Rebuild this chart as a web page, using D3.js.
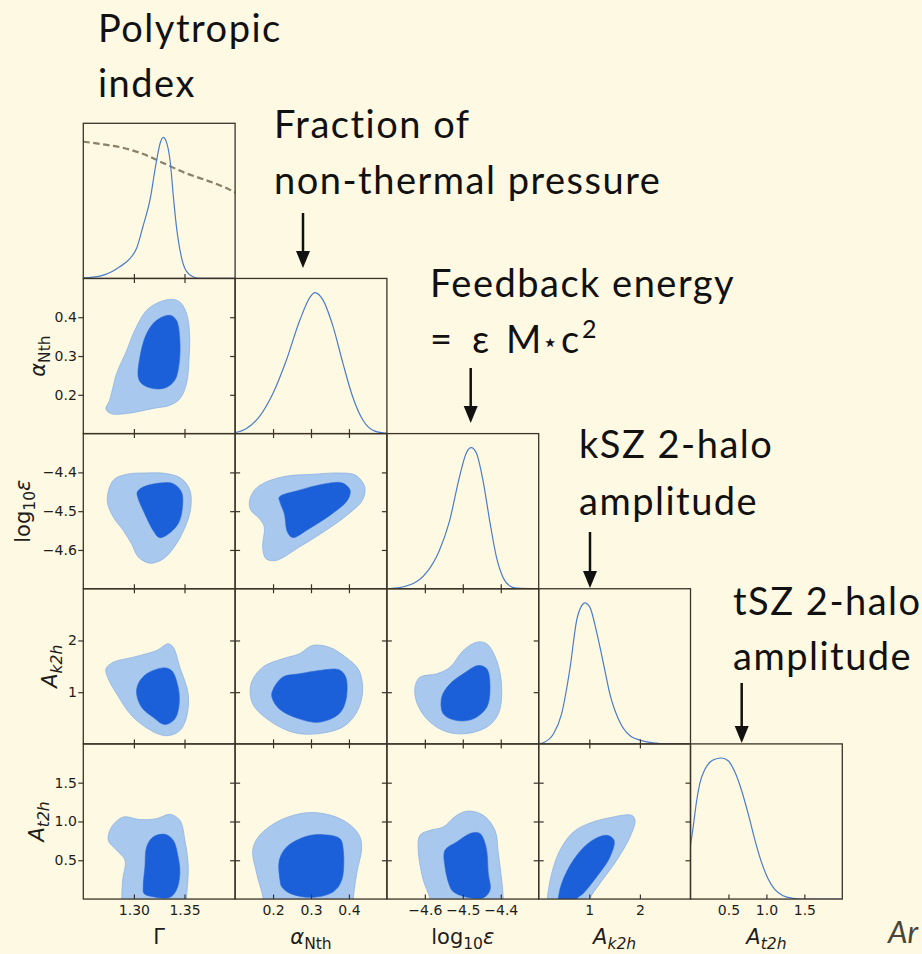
<!DOCTYPE html>
<html>
<head>
<meta charset="utf-8">
<script src="https://cdn.jsdelivr.net/npm/d3@7"></script>
<style>
  html, body { margin: 0; padding: 0; background: #fef9e2; }
  svg { display: block; }
</style>
</head>
<body>
<svg id="chart" width="922" height="954"></svg>
<script>
// ---------------- parameters ----------------
const paramDomains = [[1.25, 1.40], [0.1, 0.5], [-4.7, -4.3], [0, 3], [0, 2]];
const paramTicks = [[1.30, 1.35], [0.2, 0.3, 0.4], [-4.6, -4.5, -4.4], [1, 2], [0.5, 1.0, 1.5]];
const paramTickLabels = [["1.30", "1.35"], ["0.2", "0.3", "0.4"], ["\u22124.6", "\u22124.5", "\u22124.4"], ["1", "2"], ["0.5", "1.0", "1.5"]];

// axis labels as math segments: [text, italic, subscript]
const labelGamma = [["\u0393", false, false]];
const labelAlpha = [["\u03b1", true, false], ["Nth", false, true]];
const labelEps = [["log", false, false], ["10", false, true], ["\u03b5", true, false]];
const labelAk = [["A", true, false], ["k2h", true, true]];
const labelAt = [["A", true, false], ["t2h", true, true]];

// ---------------- 1D marginals (normalised to peak = 1) ----------------
const gammaPost = [[1.25,0.004],[1.2665,0.017],[1.276,0.04],[1.286,0.083],[1.296,0.14],[1.303,0.22],[1.309,0.37],[1.316,0.56],[1.322,0.82],[1.326,0.96],[1.329,1.0],[1.332,0.97],[1.336,0.82],[1.339,0.58],[1.342,0.37],[1.347,0.15],[1.352,0.05],[1.359,0.01],[1.365,0.0],[1.40,0.0]];
const gammaPrior = [[1.25,0.97],[1.27,0.95],[1.29,0.925],[1.31,0.88],[1.33,0.815],[1.35,0.75],[1.37,0.70],[1.39,0.645],[1.40,0.61]];
const alphaPost = [[0.1,0.007],[0.129,0.035],[0.164,0.12],[0.199,0.28],[0.235,0.52],[0.27,0.80],[0.298,0.97],[0.31,1.0],[0.331,0.95],[0.358,0.76],[0.384,0.50],[0.41,0.26],[0.437,0.095],[0.463,0.024],[0.49,0.005],[0.5,0.003]];
const epsPost = [[-4.7,0.0],[-4.686,0.002],[-4.632,0.035],[-4.597,0.11],[-4.562,0.27],[-4.535,0.48],[-4.509,0.79],[-4.491,0.96],[-4.478,1.0],[-4.464,0.96],[-4.447,0.77],[-4.429,0.48],[-4.411,0.22],[-4.394,0.08],[-4.376,0.02],[-4.358,0.004],[-4.3,0.0]];
const ak2hPost = [[0.0,0.002],[0.1,0.01],[0.29,0.07],[0.45,0.21],[0.62,0.54],[0.75,0.875],[0.85,0.98],[0.91,1.0],[1.01,0.97],[1.14,0.80],[1.28,0.57],[1.41,0.35],[1.61,0.15],[1.80,0.06],[2.07,0.02],[2.33,0.005],[2.5,0.0],[3.0,0.0]];
const at2hPost = [[0.0,0.38],[0.035,0.51],[0.079,0.69],[0.123,0.82],[0.19,0.92],[0.255,0.97],[0.343,0.995],[0.409,1.0],[0.497,0.98],[0.585,0.90],[0.673,0.77],[0.76,0.605],[0.848,0.42],[0.936,0.26],[1.02,0.146],[1.11,0.068],[1.22,0.024],[1.354,0.005],[1.45,0.0],[2.0,0.0]];

// ---------------- 2D credible regions (68% inner, 95% outer) ----------------
const gammaAlpha95 = [[1.2724,0.163],[1.276,0.186],[1.283,0.255],[1.293,0.315],[1.301,0.367],[1.3126,0.418],[1.326,0.44],[1.339,0.446],[1.346,0.438],[1.352,0.41],[1.355,0.358],[1.3546,0.298],[1.352,0.229],[1.3454,0.19],[1.3356,0.173],[1.319,0.165],[1.3027,0.156],[1.293,0.152],[1.278,0.151]];
const gammaAlpha68 = [[1.3043,0.246],[1.306,0.298],[1.3126,0.358],[1.3224,0.392],[1.3356,0.405],[1.342,0.392],[1.3454,0.341],[1.3447,0.281],[1.3405,0.238],[1.332,0.219],[1.319,0.216],[1.3076,0.229]];

const gammaEps95 = [[1.2737,-4.472],[1.2796,-4.4205],[1.2928,-4.405],[1.3126,-4.4016],[1.332,-4.403],[1.347,-4.416],[1.3553,-4.446],[1.3563,-4.489],[1.352,-4.532],[1.342,-4.584],[1.329,-4.623],[1.3158,-4.634],[1.3043,-4.618],[1.2977,-4.584],[1.2895,-4.5495],[1.2796,-4.515]];
const gammaEps68 = [[1.3033,-4.4507],[1.3092,-4.4378],[1.3257,-4.4274],[1.3388,-4.429],[1.347,-4.4507],[1.348,-4.489],[1.3438,-4.532],[1.3323,-4.562],[1.325,-4.568],[1.319,-4.5495],[1.3092,-4.498],[1.3043,-4.468]];

const alphaEps95 = [[0.1376,-4.4765],[0.1507,-4.446],[0.1815,-4.425],[0.234,-4.41],[0.304,-4.405],[0.374,-4.4016],[0.418,-4.4076],[0.4417,-4.438],[0.4354,-4.472],[0.4004,-4.506],[0.339,-4.5495],[0.269,-4.5926],[0.2078,-4.627],[0.1815,-4.6226],[0.1726,-4.5926],[0.177,-4.541],[0.1639,-4.519],[0.142,-4.498]];
const alphaEps68 = [[0.2164,-4.4636],[0.269,-4.446],[0.339,-4.429],[0.3828,-4.4274],[0.403,-4.446],[0.396,-4.472],[0.3565,-4.506],[0.2953,-4.545],[0.2514,-4.568],[0.238,-4.554],[0.2296,-4.506],[0.218,-4.476]];

const gammaAk95 = [[1.2724,1.452],[1.2796,1.579],[1.2993,1.676],[1.3224,1.806],[1.3339,1.935],[1.3388,1.87],[1.3454,1.483],[1.3536,0.968],[1.352,0.515],[1.3454,0.257],[1.3339,0.16],[1.3224,0.205],[1.2993,0.515],[1.283,0.968],[1.2747,1.258]];
const gammaAk68 = [[1.3043,1.161],[1.3126,1.355],[1.329,1.47],[1.3372,1.419],[1.3437,1.096],[1.3447,0.774],[1.3405,0.484],[1.3306,0.374],[1.319,0.515],[1.3076,0.708],[1.3027,0.968]];

const alphaAk95 = [[0.142,1.161],[0.1726,1.483],[0.2251,1.645],[0.269,1.742],[0.304,1.903],[0.3478,1.87],[0.3917,1.676],[0.4267,1.419],[0.4354,0.968],[0.418,0.581],[0.3828,0.323],[0.3129,0.194],[0.2514,0.226],[0.1901,0.452],[0.1463,0.774]];
const alphaAk68 = [[0.1988,1.032],[0.2251,1.29],[0.269,1.355],[0.3216,1.419],[0.374,1.432],[0.3917,1.29],[0.3917,0.838],[0.374,0.581],[0.3216,0.419],[0.269,0.484],[0.2164,0.677],[0.1971,0.903]];

const epsAk95 = [[-4.626,1.096],[-4.6128,1.29],[-4.5688,1.355],[-4.5337,1.483],[-4.4987,1.806],[-4.4634,1.966],[-4.437,1.935],[-4.4107,1.612],[-4.3975,1.096],[-4.4064,0.581],[-4.437,0.323],[-4.4987,0.194],[-4.5514,0.257],[-4.5951,0.484],[-4.6215,0.805]];
const epsAk68 = [[-4.5556,0.903],[-4.5337,1.161],[-4.4987,1.355],[-4.4592,1.516],[-4.437,1.452],[-4.4283,1.096],[-4.437,0.708],[-4.4723,0.484],[-4.5161,0.451],[-4.5514,0.581]];

const gammaAt95 = [[1.288,-0.15],[1.288,0.0],[1.2889,0.244],[1.2912,0.501],[1.283,0.629],[1.2747,0.758],[1.278,0.929],[1.2895,1.057],[1.306,1.024],[1.3224,1.036],[1.3356,1.092],[1.3454,1.015],[1.3504,0.758],[1.3537,0.415],[1.352,0.0],[1.352,-0.15]];
const gammaAt68 = [[1.3092,0.158],[1.3109,0.415],[1.3126,0.672],[1.319,0.8],[1.3306,0.835],[1.3388,0.758],[1.3437,0.543],[1.3454,0.33],[1.342,0.116],[1.3356,0.022],[1.319,0.03],[1.3099,0.073]];

const alphaAt95 = [[0.1743,-0.15],[0.1743,0.0],[0.1569,0.33],[0.1464,0.629],[0.1611,0.8],[0.2096,0.993],[0.271,1.1],[0.3237,1.108],[0.3851,1.015],[0.4246,0.844],[0.4336,0.672],[0.4204,0.33],[0.4115,0.0],[0.4115,-0.15]];
const alphaAt68 = [[0.2183,0.244],[0.2165,0.501],[0.236,0.672],[0.2887,0.809],[0.3324,0.83],[0.376,0.779],[0.3851,0.629],[0.3809,0.244],[0.3588,0.094],[0.3018,0.022],[0.2447,0.073],[0.2228,0.158]];

const epsAt95 = [[-4.5864,-0.15],[-4.5864,0.0],[-4.604,0.244],[-4.6173,0.629],[-4.6128,0.822],[-4.5864,0.886],[-4.5514,0.929],[-4.5161,1.079],[-4.4855,1.134],[-4.446,1.079],[-4.4152,0.886],[-4.4064,0.586],[-4.3975,0.244],[-4.3933,0.0],[-4.3933,-0.15]];
const epsAt68 = [[-4.5337,0.158],[-4.5469,0.415],[-4.5469,0.629],[-4.5161,0.736],[-4.4766,0.852],[-4.4547,0.844],[-4.4389,0.672],[-4.4328,0.33],[-4.4283,0.116],[-4.446,0.017],[-4.4942,0.03],[-4.525,0.094]];

const akAt95 = [[0.17,-0.15],[0.17,0.0],[0.257,0.33],[0.421,0.629],[0.684,0.864],[1.014,0.98],[1.409,1.049],[1.838,1.079],[1.903,1.015],[1.804,0.8],[1.542,0.501],[1.211,0.202],[1.014,0.0],[1.014,-0.15]];
const akAt68 = [[0.387,-0.15],[0.387,0.0],[0.454,0.202],[0.684,0.501],[1.014,0.736],[1.344,0.822],[1.488,0.758],[1.409,0.543],[1.146,0.287],[0.881,0.073],[0.751,0.0],[0.751,-0.15]];

// ---------------- annotations ----------------
const noteLines = [
  ["Polytropic", "index"],
  ["Fraction of", "non-thermal pressure"],
  ["Feedback energy"],
  ["kSZ 2-halo", "amplitude"],
  ["tSZ 2-halo", "amplitude"]
];
const energyFormula = ["=", "\u03b5", "M", "\u22c6", "c", "2"];
const cornerText = "Ar";

// ---------------- layout ----------------
const marginals = [gammaPost, alphaPost, epsPost, ak2hPost, at2hPost];
const axisLabels = [labelGamma, labelAlpha, labelEps, labelAk, labelAt];
const regions = {
  "1,0": [gammaAlpha95, gammaAlpha68],
  "2,0": [gammaEps95, gammaEps68],
  "2,1": [alphaEps95, alphaEps68],
  "3,0": [gammaAk95, gammaAk68],
  "3,1": [alphaAk95, alphaAk68],
  "3,2": [epsAk95, epsAk68],
  "4,0": [gammaAt95, gammaAt68],
  "4,1": [alphaAt95, alphaAt68],
  "4,2": [epsAt95, epsAt68],
  "4,3": [akAt95, akAt68]
};

const N = 5;
const X0 = 83.3, Y0 = 123.3, W = 151.8, H = 155.15;
const TICK = 4.5;
const frameColor = "#3a3329";
const textColor = "#1f1d1a";
const lightBlue = "#a9c8ee";
const darkBlue = "#1b60d8";

const svg = d3.select("#chart");
svg.append("rect").attr("width", 922).attr("height", 954).attr("fill", "#fef9e2");
svg.append("defs").append("clipPath").attr("id", "cell")
  .append("rect").attr("width", W).attr("height", H);

const xScales = paramDomains.map(d => d3.scaleLinear().domain(d).range([0, W]));
const yScales = paramDomains.map(d => d3.scaleLinear().domain(d).range([H, 0]));
const pScale = d3.scaleLinear().domain([0, 1.1]).range([H, 0]);

function styleAxis(g) {
  g.select(".domain").remove();
  g.selectAll("line").attr("stroke", frameColor).attr("stroke-width", 1.2);
  g.attr("font-family", "'DejaVu Sans', sans-serif").attr("font-size", 14).attr("fill", textColor);
  g.selectAll("text").attr("fill", textColor);
}

function mathText(sel, segs, size) {
  let shift = 0;
  segs.forEach(([t, it, sub]) => {
    const target = sub ? size * 0.26 : 0;
    sel.append("tspan").text(t)
      .attr("font-style", it ? "italic" : "normal")
      .attr("font-size", sub ? size * 0.74 : size)
      .attr("dy", target - shift);
    shift = target;
  });
}

const grid = svg.append("g");

for (let r = 0; r < N; r++) {
  for (let c = 0; c <= r; c++) {
    const cell = grid.append("g")
      .attr("transform", `translate(${X0 + c * W},${Y0 + r * H})`);
    const body = cell.append("g").attr("clip-path", "url(#cell)");
    const xs = xScales[c];

    if (r === c) {
      const line = d3.line().x(d => xs(d[0])).y(d => pScale(d[1])).curve(d3.curveMonotoneX);
      if (r === 0) {
        body.append("path").datum(gammaPrior).attr("d", line)
          .attr("fill", "none").attr("stroke", "#8b8068").attr("stroke-width", 2.2)
          .attr("stroke-dasharray", "6.5,3.5");
      }
      body.append("path").datum(marginals[c]).attr("d", line)
        .attr("fill", "none").attr("stroke", "#4c7ccc").attr("stroke-width", 1.2);
    } else {
      const ys = yScales[r];
      const shape = d3.line().x(d => xs(d[0])).y(d => ys(d[1]))
        .curve(d3.curveCatmullRomClosed.alpha(0.5));
      const [outer, inner] = regions[`${r},${c}`];
      body.append("path").datum(outer).attr("d", shape)
        .attr("fill", lightBlue).attr("stroke", "#8fb2e3").attr("stroke-width", 0.8);
      body.append("path").datum(inner).attr("d", shape)
        .attr("fill", darkBlue).attr("stroke", "#2a68d6").attr("stroke-width", 0.6);
    }

    // frame
    cell.append("rect").attr("width", W).attr("height", H)
      .attr("fill", "none").attr("stroke", frameColor).attr("stroke-width", 1.3);

    // bottom ticks (inward), with labels on the last row
    const bottom = d3.axisBottom(xs).tickValues(paramTicks[c]).tickSize(-TICK).tickPadding(6)
      .tickFormat(r === N - 1 ? (d, i) => paramTickLabels[c][i] : "");
    cell.append("g").attr("transform", `translate(0,${H})`).call(bottom).call(styleAxis);

    if (r !== c) {
      const ys = yScales[r];
      // top ticks (inward)
      cell.append("g").call(d3.axisTop(xs).tickValues(paramTicks[c]).tickSize(-TICK).tickFormat(""))
        .call(styleAxis);
      // right ticks (inward)
      cell.append("g").attr("transform", `translate(${W},0)`)
        .call(d3.axisRight(ys).tickValues(paramTicks[r]).tickSize(-5).tickFormat(""))
        .call(styleAxis);
      if (c === 0) {
        cell.append("g")
          .call(d3.axisLeft(ys).tickValues(paramTicks[r]).tickSize(5).tickPadding(1.5)
            .tickFormat((d, i) => paramTickLabels[r][i]))
          .call(styleAxis);
      } else {
        cell.append("g")
          .call(d3.axisLeft(ys).tickValues(paramTicks[r]).tickSize(-5).tickFormat(""))
          .call(styleAxis);
      }
    }
  }
}

// axis titles
const labelFont = "'DejaVu Sans', sans-serif";
const labelSize = 21;
for (let c = 0; c < N; c++) {
  const t = svg.append("text")
    .attr("x", X0 + c * W + W / 2).attr("y", 944)
    .attr("text-anchor", "middle").attr("font-family", labelFont)
    .attr("font-size", labelSize).attr("fill", textColor);
  mathText(t, axisLabels[c], labelSize);
}
const yLabelBase = [0, 45, 30, 57, 44];
for (let r = 1; r < N; r++) {
  const cy = Y0 + r * H + H / 2;
  const t = svg.append("text")
    .attr("transform", `translate(${yLabelBase[r]},${cy}) rotate(-90)`)
    .attr("text-anchor", "middle").attr("font-family", labelFont)
    .attr("font-size", labelSize).attr("fill", textColor);
  mathText(t, axisLabels[r], labelSize);
}

// annotations above the diagonal
const noteFont = "Lato, 'Open Sans', sans-serif";
const noteSize = 38;
const notePos = [[98, 42, 97], [274, 138, 194], [430, 297, null], [579, 458, 515], [733, 615, 670]];
const notes = svg.append("g").attr("font-family", noteFont).attr("font-size", noteSize)
  .attr("fill", "#111").attr("letter-spacing", 1.5);
noteLines.forEach((lines, i) => {
  const [x, y1, y2] = notePos[i];
  notes.append("text").attr("x", x).attr("y", y1).text(lines[0]);
  if (lines[1]) notes.append("text").attr("x", x).attr("y", y2).text(lines[1]);
});
// = ε M⋆ c²
const formula = notes.append("text").attr("y", 353).attr("letter-spacing", 0);
const formulaLayout = [[430, 0, 38], [472, 0, 38], [506, 0, 38], [542, -2, 26], [561, 0, 38], [582, -15, 25]];
let prevDy = 0;
energyFormula.forEach((t, i) => {
  const [x, dy, fs] = formulaLayout[i];
  formula.append("tspan").attr("x", x).attr("dy", dy - prevDy).attr("font-size", fs).text(t);
  prevDy = dy;
});

// arrows pointing at each marginal
const arrows = [[303, 213, 268], [470.7, 368, 423], [590, 532, 588], [741.7, 683, 743]];
const arrowG = svg.append("g");
arrows.forEach(([x, y0, y1]) => {
  arrowG.append("line").attr("x1", x).attr("x2", x).attr("y1", y0).attr("y2", y1 - 14)
    .attr("stroke", "#111").attr("stroke-width", 2.5);
  arrowG.append("path")
    .attr("d", `M${x - 7},${y1 - 17}L${x + 7},${y1 - 17}L${x},${y1}Z`)
    .attr("fill", "#111");
});

svg.append("text").attr("x", 888).attr("y", 943)
  .attr("font-family", noteFont).attr("font-style", "italic").attr("font-size", 31)
  .attr("fill", "#4a4538").text(cornerText);
</script>
</body>
</html>
